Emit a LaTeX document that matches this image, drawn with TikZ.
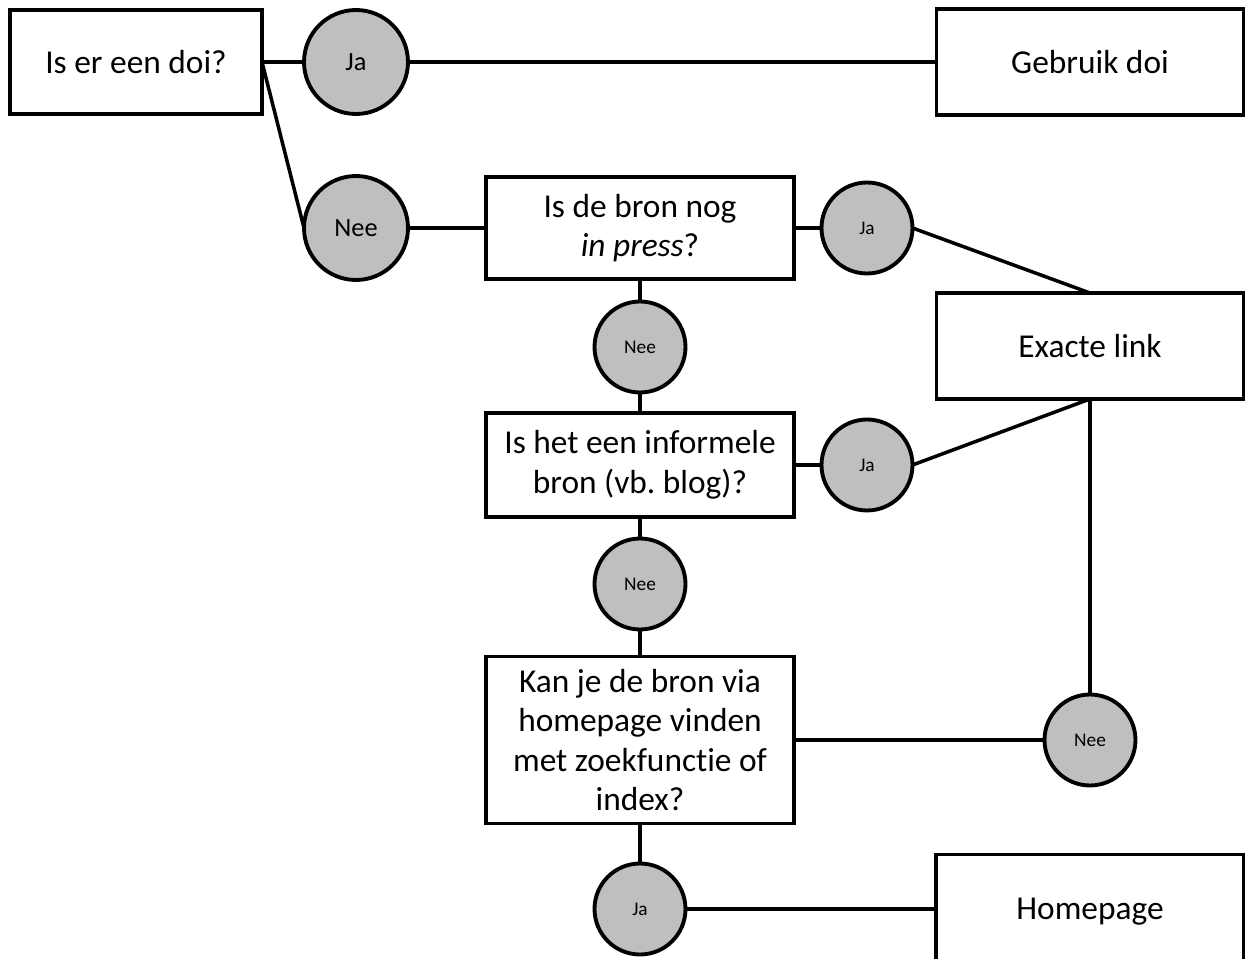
\documentclass[tikz,border=0pt]{standalone}
\usepackage{fontspec}
\setmainfont[Ligatures=NoCommon]{Carlito}
\usepackage{tikz}

\definecolor{circgray}{RGB}{191,191,191}

\tikzset{
  vraag/.style={draw, line width=2.2pt, fill=white, align=center, outer sep=0pt,
    minimum width=6.16cm, font=\fontsize{19}{22.5}\selectfont},
  antw/.style={draw, circle, line width=2.2pt, fill=circgray, inner sep=0pt,
    outer sep=0pt, minimum size=1.82cm, font=\fontsize{11}{13}\selectfont},
  grootantw/.style={antw, minimum size=2.08cm, font=\fontsize{15}{17}\selectfont},
  lijn/.style={line width=2pt}
}

\begin{document}
\begin{tikzpicture}[x=0.02cm, y=-0.02cm]
\useasboundingbox (0,0) rectangle (1245,959);

\node[vraag, minimum width=5.04cm, minimum height=2.08cm] (doi) at (136,62) {Is er een doi?};
\node[vraag, minimum width=6.14cm, minimum height=2.12cm] (gebruik) at (1090,62) {Gebruik doi};
\node[vraag, minimum height=2.04cm] (press) at (640,228) {Is de bron nog\\\textit{in press}?};
\node[vraag, minimum width=6.14cm, minimum height=2.12cm] (exact) at (1090,346) {Exacte link};
\node[vraag, minimum height=2.08cm] (blog) at (640,465) {Is het een informele\\bron (vb.\ blog)?};
\node[vraag, minimum height=3.34cm] (zoek) at (640,740) {Kan je de bron via\\homepage vinden\\met zoekfunctie of\\index?};
\node[vraag, minimum height=2.3cm] (home) at (1090,912) {Homepage};

\node[grootantw] (jaA) at (356,62) {Ja};
\node[grootantw] (neeA) at (356,228) {Nee};
\node[antw] (jaB) at (867,228) {Ja};
\node[antw] (neeB) at (640,347) {Nee};
\node[antw] (jaC) at (867,465) {Ja};
\node[antw] (neeC) at (640,584) {Nee};
\node[antw] (neeD) at (1090,740) {Nee};
\node[antw] (jaD) at (640,909) {Ja};

\draw[lijn] (doi.east) -- (jaA.west);
\draw[lijn] (jaA.east) -- (gebruik.west);
\draw[lijn] (doi.east) -- (neeA.west);
\draw[lijn] (neeA.east) -- (press.west);
\draw[lijn] (press.east) -- (jaB.west);
\draw[lijn] (jaB.east) -- (exact.north);
\draw[lijn] (press.south) -- (neeB.north);
\draw[lijn] (neeB.south) -- (blog.north);
\draw[lijn] (blog.east) -- (jaC.west);
\draw[lijn] (jaC.east) -- (exact.south);
\draw[lijn] (blog.south) -- (neeC.north);
\draw[lijn] (neeC.south) -- (zoek.north);
\draw[lijn] (exact.south) -- (neeD.north);
\draw[lijn] (zoek.east) -- (neeD.west);
\draw[lijn] (zoek.south) -- (jaD.north);
\draw[lijn] (jaD.east) -- (jaD.east -| home.west);
\end{tikzpicture}
\end{document}
